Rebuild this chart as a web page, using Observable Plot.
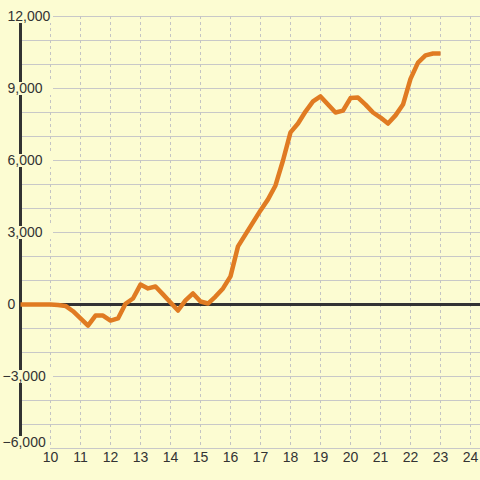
<!DOCTYPE html>
<html>
<head>
<meta charset="utf-8">
<script src="https://cdn.jsdelivr.net/npm/d3@7"></script>
<script src="https://cdn.jsdelivr.net/npm/@observablehq/plot@0.6"></script>
<style>
  html, body { margin: 0; padding: 0; background: #fcfcd2; }
  #chart { width: 480px; height: 480px; }
</style>
</head>
<body>
<div id="chart"></div>
<script>
const hours = [9, 9.25, 9.5, 9.75, 10, 10.25, 10.5, 10.75, 11, 11.25, 11.5, 11.75,
  12, 12.25, 12.5, 12.75, 13, 13.25, 13.5, 13.75, 14, 14.25, 14.5, 14.75,
  15, 15.25, 15.5, 15.75, 16, 16.25, 16.5, 16.75, 17, 17.25, 17.5, 17.75,
  18, 18.25, 18.5, 18.75, 19, 19.25, 19.5, 19.75, 20, 20.25, 20.5, 20.75,
  21, 21.25, 21.5, 21.75, 22, 22.25, 22.5, 22.75, 23];
const values = [0, 0, 0, 0, 0, -20, -60, -280, -580, -880, -460, -460,
  -670, -580, 30, 250, 830, 670, 750, 420, 80, -250, 170, 460,
  125, 40, 330, 670, 1170, 2420, 2920, 3420, 3920, 4380, 4960, 6000,
  7170, 7540, 8040, 8460, 8670, 8330, 8000, 8080, 8600, 8620, 8330, 8000,
  7790, 7540, 7880, 8330, 9400, 10080, 10380, 10460, 10460];
const xTicks = [10, 11, 12, 13, 14, 15, 16, 17, 18, 19, 20, 21, 22, 23, 24];
const yTicks = [12000, 9000, 6000, 3000, 0, -3000, -6000];
const yGrid = [-6000, -5000, -4000, -3000, -2000, -1000, 0, 1000, 2000, 3000, 4000, 5000, 6000, 7000, 8000, 9000, 10000, 11000, 12000];

const data = hours.map((h, i) => ({h, v: values[i]}));
const bg = "#fcfcd2";
const fmt = d3.format(",");
const inner = yTicks.filter(d => d !== 0 && d !== -6000);
const bottomTick = yTicks.filter(d => d === -6000);

const chart = Plot.plot({
  width: 480,
  height: 480,
  marginLeft: 20,
  marginRight: 0,
  marginTop: 16,
  marginBottom: 32,
  x: {domain: [9, 24 + 1/3], axis: null},
  y: {domain: [-6000, 12000], axis: null},
  style: {background: bg, fontFamily: "'Liberation Sans', Arial, sans-serif", fontSize: "14px", color: "#333"},
  marks: [
    Plot.ruleY(yGrid, {stroke: "#c8c8c8", strokeWidth: 1}),
    Plot.ruleX(xTicks, {stroke: "#c4c4c4", strokeWidth: 1, strokeDasharray: "3,3"}),
    Plot.ruleX([9], {stroke: "#333", strokeWidth: 3}),
    Plot.ruleY(inner, {x1: 8.3, x2: 10.1, stroke: bg, strokeWidth: 13}),
    Plot.ruleY(bottomTick, {x1: 8.3, x2: 10, stroke: bg, strokeWidth: 13, dy: -6}),
    Plot.text(yTicks.filter(d => d >= 0), {y: d => d, text: d => fmt(d), frameAnchor: "left", textAnchor: "start", dx: -13, fill: "#333", fontSize: 14}),
    Plot.text(yTicks.filter(d => d < 0 && d !== -6000), {y: d => d, text: d => fmt(d), frameAnchor: "left", textAnchor: "start", dx: -18, fill: "#333", fontSize: 14}),
    Plot.text(bottomTick, {y: d => d, text: d => fmt(d), frameAnchor: "left", textAnchor: "start", dx: -18, dy: -6, fill: "#333", fontSize: 14}),
    Plot.text(xTicks, {x: d => d, text: d => String(d), frameAnchor: "bottom", dy: 13, fill: "#333", fontSize: 14}),
    Plot.ruleY([0], {stroke: "#333", strokeWidth: 3}),
    Plot.line(data, {x: "h", y: "v", stroke: "#e07b22", strokeWidth: 4.5, strokeLinejoin: "round", strokeLinecap: "butt"})
  ]
});
document.getElementById("chart").appendChild(chart);
</script>
</body>
</html>
